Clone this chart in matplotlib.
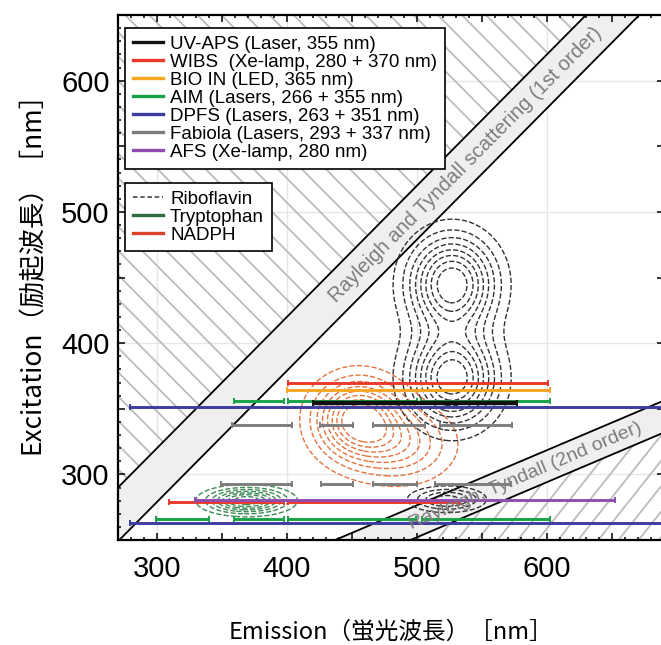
import numpy as np
import matplotlib.pyplot as plt
from matplotlib.ticker import MultipleLocator, FuncFormatter
from matplotlib.lines import Line2D
from matplotlib.patches import Polygon

# instrument detection windows: excitation wavelength -> emission bands (nm)
instr_names = ["UV-APS (Laser, 355 nm)", "WIBS  (Xe-lamp, 280 + 370 nm)",
               "BIO IN (LED, 365 nm)", "AIM (Lasers, 266 + 355 nm)",
               "DPFS (Lasers, 263 + 351 nm)", "Fabiola (Lasers, 293 + 337 nm)",
               "AFS (Xe-lamp, 280 nm)"]
instr_colors = ["#111111", "#ea392c", "#f6a623", "#18a247", "#3c3ca2", "#7d7d7d", "#8f4db0"]

uvaps_ex = [354.5]
uvaps_bands = [[(420, 577)]]
wibs_ex = [370, 278.8]
wibs_bands = [[(401, 601)], [(309, 398), (401, 533)]]
bioin_ex = [364]
bioin_bands = [[(400, 602)]]
aim_ex = [355.8, 265.8]
aim_bands = [[(359, 398), (401, 500), (503, 602)],
             [(299, 340), (359, 398), (401, 499), (504, 602)]]
dpfs_ex = [351, 263.3]
dpfs_bands = [[(279, 720)], [(279, 720)]]
fabiola_ex = [338, 293]
fabiola_bands = [[(358, 404), (425, 451), (466, 506), (518, 573)],
                 [(349, 404), (426, 451), (466, 500), (514, 572)]]
afs_ex = [280.3]
afs_bands = [[(329, 652)]]

# fluorophore peaks: emission centre, excitation centre, widths, amplitude
ribo_em = [527, 527, 523]
ribo_ex = [445, 373, 281]
ribo_sem = [22, 22, 18]
ribo_sex = [24, 23, 6]
ribo_amp = [1.0, 1.0, 0.5]

nadph_em = [455, 488]
nadph_ex = [342, 323]
nadph_sem = [21, 25]
nadph_sex = [19, 18]
nadph_amp = [1.0, 0.45]

trp_em = [369]
trp_ex = [280]
trp_sem = [19]
trp_sex = [6]
trp_amp = [1.0]

fig = plt.figure(figsize=(6.61, 6.45), dpi=100)
ax = fig.add_axes([118 / 661, 1 - 540 / 645, (664 - 118) / 661, (540 - 15) / 645])
ax.set_xlim(270, 690)
ax.set_ylim(250, 650)

# grid at the hundreds
for v in [300, 400, 500, 600]:
    ax.axvline(v, color="#e6e6e6", lw=1, zorder=0)
    ax.axhline(v, color="#e6e6e6", lw=1, zorder=0)

em = np.linspace(200, 760, 50)

# 1st order Rayleigh / Tyndall band
ax.fill_between(em, em - 21, em + 20, color="#efefef", zorder=1)
ax.plot(em, em + 20, color="k", lw=1.3, zorder=2)
ax.plot(em, em - 21, color="k", lw=1.3, zorder=2)

# 2nd order band
slope2 = 0.42
lineC = 250 + slope2 * (em - 437)
lineD = 250 + slope2 * (em - 495)
ax.fill_between(em, lineD, lineC, color="#efefef", zorder=1)
ax.plot(em, lineC, color="k", lw=1.3, zorder=2)
ax.plot(em, lineD, color="k", lw=1.3, zorder=2)

# hatched regions
upper = Polygon([(200, 220), (700, 720), (200, 720)], closed=True, fc="none", ec="none")
ax.add_patch(upper)
for c in np.arange(500, 1400, 18.5):
    ln, = ax.plot(em, c - em, color="#bcbcbc", lw=1.3, zorder=1)
    ln.set_clip_path(upper)
lower = Polygon([(400, 250 + slope2 * (400 - 495)), (760, 250 + slope2 * (760 - 495)),
                 (760, 150), (400, 150)], closed=True, fc="none", ec="none")
ax.add_patch(lower)
for c in np.arange(300, 760, 15.5):
    ln, = ax.plot(em, 1.25 * (em - c), color="#bcbcbc", lw=1.3, zorder=1)
    ln.set_clip_path(lower)

# fluorophore contours
EM, EX = np.meshgrid(np.linspace(270, 690, 421), np.linspace(250, 650, 401))


def field(cem, cex, sem, sex, amp):
    z = np.zeros_like(EM)
    for a, b, s1, s2, h in zip(cem, cex, sem, sex, amp):
        z += h * np.exp(-((EM - a) / s1) ** 2 / 2 - ((EX - b) / s2) ** 2 / 2)
    return z


ax.contour(EM, EX, field(nadph_em, nadph_ex, nadph_sem, nadph_sex, nadph_amp),
           levels=np.linspace(0.1, 0.88, 8), colors="#e2743f", linestyles="--",
           linewidths=1.0, zorder=3)
ax.contour(EM, EX, field(trp_em, trp_ex, trp_sem, trp_sex, trp_amp),
           levels=np.linspace(0.12, 0.88, 7), colors="#3f8a55", linestyles="--",
           linewidths=1.0, zorder=3)
ax.contour(EM, EX, field(ribo_em, ribo_ex, ribo_sem, ribo_sex, ribo_amp),
           levels=np.linspace(0.12, 0.88, 8), colors="#333333", linestyles="--",
           linewidths=1.0, zorder=3)

# instrument bands, drawn as capped bars
instr_data = [(dpfs_ex, dpfs_bands, 4), (fabiola_ex, fabiola_bands, 5),
              (aim_ex, aim_bands, 3), (bioin_ex, bioin_bands, 2),
              (wibs_ex, wibs_bands, 1), (afs_ex, afs_bands, 6),
              (uvaps_ex, uvaps_bands, 0)]
for exs, bands, ci in instr_data:
    for ex, segs in zip(exs, bands):
        lo = np.array([s[0] for s in segs])
        hi = np.array([s[1] for s in segs])
        lw = 3.2 if ci == 0 else 2.1
        ax.errorbar((lo + hi) / 2, [ex] * len(segs), xerr=(hi - lo) / 2, fmt="none",
                    ecolor=instr_colors[ci], elinewidth=lw, capsize=2.3, capthick=1.4,
                    zorder=4)

# band labels
ax.text(537, 536, "Rayleigh and Tyndall scattering (1st order)", rotation=45,
        transform_rotates_text=True, rotation_mode="anchor", ha="center", va="center",
        color="#7c7c7c", fontsize=14.5, family="Liberation Sans", zorder=5)
ax.text(583, 299, "Rayleigh, Tyndall (2nd order)", rotation=np.degrees(np.arctan(slope2)),
        transform_rotates_text=True, rotation_mode="anchor", ha="center", va="center",
        color="#7c7c7c", fontsize=14, family="Liberation Sans", zorder=5)

# ticks
for axis in [ax.xaxis, ax.yaxis]:
    axis.set_major_locator(MultipleLocator(50))
    axis.set_minor_locator(MultipleLocator(10))
    axis.set_major_formatter(FuncFormatter(lambda v, p: f"{v:.0f}" if v % 100 == 0 else ""))
ax.tick_params(which="both", direction="in", top=True, right=True, width=1.1)
ax.tick_params(which="major", length=5, labelsize=21, pad=6)
ax.tick_params(which="minor", length=2.5)
ax.tick_params(axis="x", pad=11)
for lab in ax.get_xticklabels() + ax.get_yticklabels():
    lab.set_family("Liberation Sans")
for sp in ax.spines.values():
    sp.set_linewidth(1.6)
    sp.set_zorder(6)

# legends
leg_kw = dict(loc="upper left", bbox_transform=fig.transFigure, borderaxespad=0,
              fancybox=False, edgecolor="k", framealpha=1,
              prop={"family": "Liberation Sans", "size": 13.5}, handlelength=1.6,
              handletextpad=0.4, labelspacing=0.05, borderpad=0.4)
h1 = [Line2D([], [], color=c, lw=2.4) for c in instr_colors]
leg1 = ax.legend(h1, instr_names, bbox_to_anchor=(125 / 661, 1 - 28 / 645), **leg_kw)
leg1.get_frame().set_linewidth(1.2)
leg1.set_zorder(7)
ax.add_artist(leg1)

h2 = [Line2D([], [], color="#555555", lw=1.3, ls=(0, (2.5, 1.5))),
      Line2D([], [], color="#2e6b40", lw=2.4),
      Line2D([], [], color="#d9432b", lw=2.4)]
leg2 = ax.legend(h2, ["Riboflavin", "Tryptophan", "NADPH"],
                 bbox_to_anchor=(125 / 661, 1 - 183 / 645), **leg_kw)
leg2.get_frame().set_linewidth(1.2)
leg2.set_zorder(7)

# axis titles
fig.text(391 / 661, 1 - 632 / 645, "Emission（蛍光波長）［nm］", ha="center", va="center",
         fontsize=17, family=["Noto Sans CJK JP", "DejaVu Sans"])
fig.text(32 / 661, 1 - 267 / 645, "Excitation（励起波長）［nm］", ha="center", va="center",
         rotation=90, fontsize=19, family=["Noto Sans CJK JP", "DejaVu Sans"])

fig.savefig("out.png", dpi=100)
